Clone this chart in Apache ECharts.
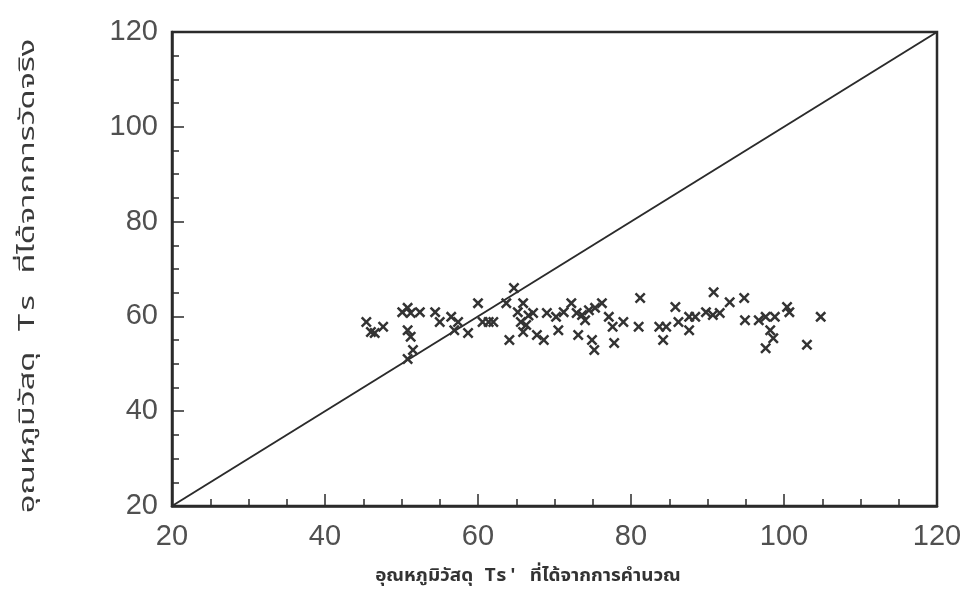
<!DOCTYPE html>
<html>
<head>
<meta charset="utf-8">
<script src="https://cdn.jsdelivr.net/npm/echarts@6/dist/echarts.min.js"></script>
<style>
  html, body { margin: 0; padding: 0; background: #ffffff; }
  #chart { width: 968px; height: 611px; }
</style>
</head>
<body>
<div id="chart"></div>
<script>
// Calculated surface temperature Ts' (x) against measured Ts (y)
const calculatedTs = [
  45.4, 46.0, 46.5, 47.6, 50.1, 50.8, 51.2, 52.4, 50.8, 51.2,
  51.5, 50.8, 54.4, 55.0, 56.5, 56.9, 57.4, 58.7, 60.0, 60.6,
  61.4, 62.0, 63.7, 64.7, 64.1, 65.2, 65.9, 65.6, 66.3, 65.9,
  66.6, 67.2, 67.7, 68.6, 69.0, 70.2, 70.5, 71.2, 72.2, 72.9,
  73.1, 73.6, 74.0, 74.5, 74.9, 75.2, 75.3, 76.2, 77.1, 77.6,
  77.8, 79.0, 81.0, 81.2, 83.7, 84.6, 84.2, 85.8, 86.2, 87.6,
  87.6, 88.4, 89.8, 90.7, 90.8, 91.6, 92.9, 94.8, 94.9, 96.7,
  97.6, 98.8, 98.2, 98.6, 97.6, 100.4, 100.7, 103.0, 104.8
];
const measuredTs = [
  58.8, 56.7, 56.5, 57.8, 60.9, 61.8, 60.7, 60.9, 57.1, 55.7,
  52.9, 51.0, 60.9, 58.8, 59.9, 57.1, 58.8, 56.5, 62.8, 58.8,
  58.8, 58.8, 62.8, 66.0, 55.0, 60.9, 62.8, 58.8, 58.2, 56.7,
  60.2, 60.7, 56.1, 55.0, 60.7, 59.9, 57.1, 60.9, 62.8, 60.7,
  56.1, 60.3, 59.2, 61.3, 55.0, 52.9, 61.8, 62.8, 59.9, 57.8,
  54.4, 58.8, 57.8, 63.9, 57.8, 57.8, 55.0, 62.0, 58.8, 59.9,
  57.1, 59.9, 60.9, 60.3, 65.1, 60.7, 63.0, 63.9, 59.2, 59.2,
  59.9, 59.9, 57.1, 55.4, 53.3, 62.0, 60.9, 54.0, 59.9
];

// Reference line Ts = Ts'
const equalityX = [20, 120];
const equalityY = [20, 120];

// Axis tick values (same on both axes)
const tickValues = [20, 40, 60, 80, 100, 120];

const xTitle = "อุณหภูมิวัสดุ Ts' ที่ได้จากการคำนวณ";
const yTitle = "อุณหภูมิวัสดุ Ts ที่ได้จากการวัดจริง";

const ink = '#2b2b2b';
const thaiMono = "'Tlwg Typo', 'Tlwg Mono', 'Noto Sans Mono', 'Noto Sans Thai', 'Noto Sans', 'DejaVu Sans Mono', monospace";

const scatterData = calculatedTs.map((x, i) => [x, measuredTs[i]]);
const lineData = equalityX.map((x, i) => [x, equalityY[i]]);

const tickStep = tickValues[1] - tickValues[0];

function axisCommon(labelMargin) {
  return {
    type: 'value',
    min: tickValues[0],
    max: tickValues[tickValues.length - 1],
    interval: tickStep,
    axisLine: { show: true, onZero: false, lineStyle: { color: ink, width: 2.5 } },
    axisTick: { show: true, inside: true, length: 12, lineStyle: { color: ink, width: 1.5 } },
    minorTick: { show: true, splitNumber: 4, length: 7, lineStyle: { color: ink, width: 1.5 } },
    splitLine: { show: false },
    minorSplitLine: { show: false },
    axisLabel: {
      margin: labelMargin,
      color: '#505050',
      fontSize: 29,
      fontFamily: "'Liberation Sans', Arial, sans-serif",
      fontWeight: 'normal'
    }
  };
}

const chart = echarts.init(document.getElementById('chart'), null, { renderer: 'canvas' });

chart.setOption({
  backgroundColor: '#ffffff',
  animation: false,
  grid: {
    left: 172, right: 31, top: 32, bottom: 105,
    show: true, borderColor: ink, borderWidth: 2.5, backgroundColor: 'transparent'
  },
  xAxis: axisCommon(16),
  yAxis: axisCommon(14),
  graphic: [
    {
      type: 'text',
      x: 528, y: 576,
      scaleX: 1.05,
      style: {
        text: xTitle,
        fill: '#333333',
        font: "bold 18px " + thaiMono,
        align: 'center',
        verticalAlign: 'middle'
      }
    },
    {
      type: 'text',
      x: 28, y: 276,
      rotation: Math.PI / 2,
      scaleX: 1.55,
      style: {
        text: yTitle,
        fill: '#3a3a3a',
        font: "21px " + thaiMono,
        align: 'center',
        verticalAlign: 'middle'
      }
    }
  ],
  series: [
    {
      type: 'line',
      data: lineData,
      symbol: 'none',
      lineStyle: { color: ink, width: 2 },
      z: 2
    },
    {
      type: 'scatter',
      data: scatterData,
      symbol: 'path://M0,1.6L1.6,0L5,3.4L8.4,0L10,1.6L6.6,5L10,8.4L8.4,10L5,6.6L1.6,10L0,8.4L3.4,5Z',
      symbolSize: 11,
      itemStyle: { color: '#333333', opacity: 1 },
      z: 3
    }
  ]
});
</script>
</body>
</html>
